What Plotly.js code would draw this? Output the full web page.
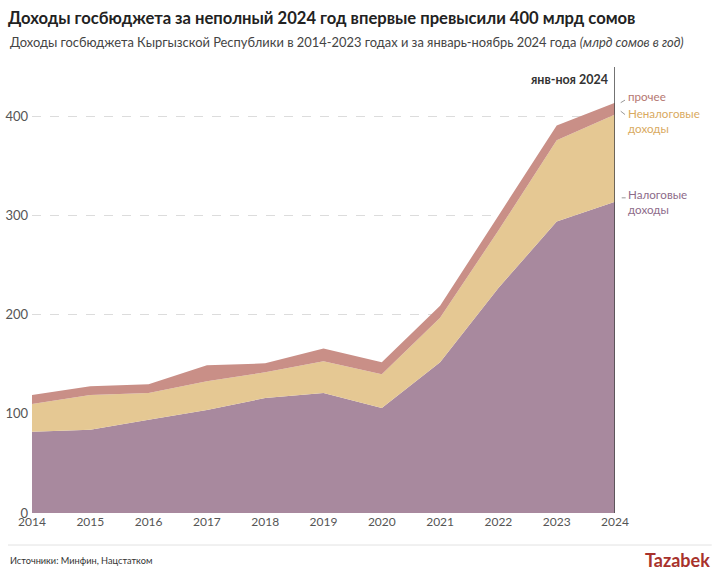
<!DOCTYPE html>
<html>
<head>
<meta charset="utf-8">
<script src="https://cdn.plot.ly/plotly-3.0.1.min.js"></script>
<style>html,body{margin:0;padding:0;background:#fff;}#chart{width:720px;height:576px;}</style>
</head>
<body>
<div id="chart"></div>
<script>
const years = [2014, 2015, 2016, 2017, 2018, 2019, 2020, 2021, 2022, 2023, 2024];
const taxRevenue = [82, 84, 94, 104, 116, 121, 106, 152, 227, 294, 314];
const nonTaxRevenue = [28, 35, 27, 29, 26, 32, 34, 45, 58, 82, 88];
const otherRevenue = [9, 9, 9, 16, 9, 13, 12, 12, 15, 15, 12];
const yTicks = [0, 100, 200, 300, 400];

const FONT = "Source Sans Pro, Lato, 'Noto Sans', sans-serif";
const cTax = '#a8899e', cNon = '#e5c893', cOther = '#c98f87';

const traces = [
  {x: years, y: taxRevenue, name: 'Налоговые доходы', stackgroup: 'a', mode: 'none', fillcolor: cTax, line: {width: 0}},
  {x: years, y: nonTaxRevenue, name: 'Неналоговые доходы', stackgroup: 'a', mode: 'none', fillcolor: cNon, line: {width: 0}},
  {x: years, y: otherRevenue, name: 'прочее', stackgroup: 'a', mode: 'none', fillcolor: cOther, line: {width: 0}}
];

const n = years.length - 1;
const lastX = years[n];
const totTax = taxRevenue[n];
const totNon = totTax + nonTaxRevenue[n];
const totAll = totNon + otherRevenue[n];

function sideLabel(text, y, color) {
  return {text: text, xref: 'x', yref: 'y', x: lastX, xshift: 11, y: y, xanchor: 'left', yanchor: 'middle', align: 'left',
          showarrow: false, font: {family: FONT, size: 11.6, color: color}};
}

const layout = {
  width: 720, height: 576,
  margin: {l: 32, r: 105, t: 67, b: 63},
  paper_bgcolor: '#fff', plot_bgcolor: '#fff',
  showlegend: false,
  font: {family: FONT, color: '#555', size: 12},
  title: {
    text: '<b>Доходы госбюджета за неполный 2024 год впервые превысили 400 млрд сомов</b>',
    x: 8/720, xanchor: 'left', xref: 'container',
    y: 1 - 18/576, yanchor: 'middle', yref: 'container',
    font: {family: FONT, size: 16.6, color: '#222'}
  },
  xaxis: {
    range: [years[0], lastX], tickvals: years, ticktext: years.map(String),
    showgrid: false, zeroline: false, showline: false, ticks: '',
    tickfont: {size: 12, color: '#555'}, fixedrange: true
  },
  yaxis: {
    range: [0, 450], tickvals: yTicks, ticktext: yTicks.map(String),
    showgrid: true, gridcolor: '#dcdcdc', griddash: 'dash', gridwidth: 1,
    zeroline: false, showline: false, ticks: '', ticklabelstandoff: 3,
    tickfont: {size: 13, color: '#555'}, fixedrange: true
  },
  shapes: [
    {type: 'line', xref: 'x', yref: 'paper', x0: lastX, x1: lastX, y0: 0, y1: 1, line: {color: '#444', width: 1.5}},
    {type: 'line', xref: 'paper', yref: 'paper', x0: -0.0412, x1: 1.166, y0: -0.0718, y1: -0.0718, line: {color: '#e3e3e3', width: 1}},
    {type: 'line', xref: 'paper', yref: 'y', x0: 1.0098, x1: 1.0172, y0: totAll, y1: totAll + 2.6, line: {color: '#999', width: 1}},
    {type: 'line', xref: 'paper', yref: 'y', x0: 1.0098, x1: 1.0172, y0: totNon + 3.4, y1: totNon, line: {color: '#999', width: 1}},
    {type: 'line', xref: 'paper', yref: 'y', x0: 1.0115, x1: 1.0183, y0: totTax + 4, y1: totTax + 4, line: {color: '#999', width: 1}}
  ],
  annotations: [
    {text: 'Доходы госбюджета Кыргызской Республики в 2014-2023 годах и за январь-ноябрь 2024 года <i>(млрд сомов в год)</i>',
     xref: 'paper', yref: 'paper', x: -0.0412, y: 1.055, xanchor: 'left', yanchor: 'middle', showarrow: false,
     font: {family: FONT, size: 12.9, color: '#444'}},
    {text: '<b>янв-ноя 2024</b>', xref: 'x', yref: 'paper', x: lastX, xshift: -5, y: 0.972, xanchor: 'right', yanchor: 'middle',
     showarrow: false, font: {family: FONT, size: 12.5, color: '#333'}},
    sideLabel('прочее', totAll + 6, '#b57771'),
    sideLabel('Неналоговые<br>доходы', totNon - 6, '#d9aa5f'),
    sideLabel('Налоговые<br>доходы', totTax, '#8d6b8a'),
    {text: 'Источники: Минфин, Нацстатком', xref: 'paper', yref: 'paper', x: -0.0412, y: -0.1055, xanchor: 'left', yanchor: 'middle',
     showarrow: false, font: {family: FONT, size: 9.2, color: '#333'}},
    {text: '<b>Tazabek</b>', xref: 'paper', yref: 'paper', x: 1.166, y: -0.1055, xanchor: 'right', yanchor: 'middle',
     showarrow: false, font: {family: FONT, size: 18, color: '#a8322c'}}
  ]
};

Plotly.newPlot('chart', traces, layout, {displayModeBar: false, staticPlot: true});
</script>
</body>
</html>
